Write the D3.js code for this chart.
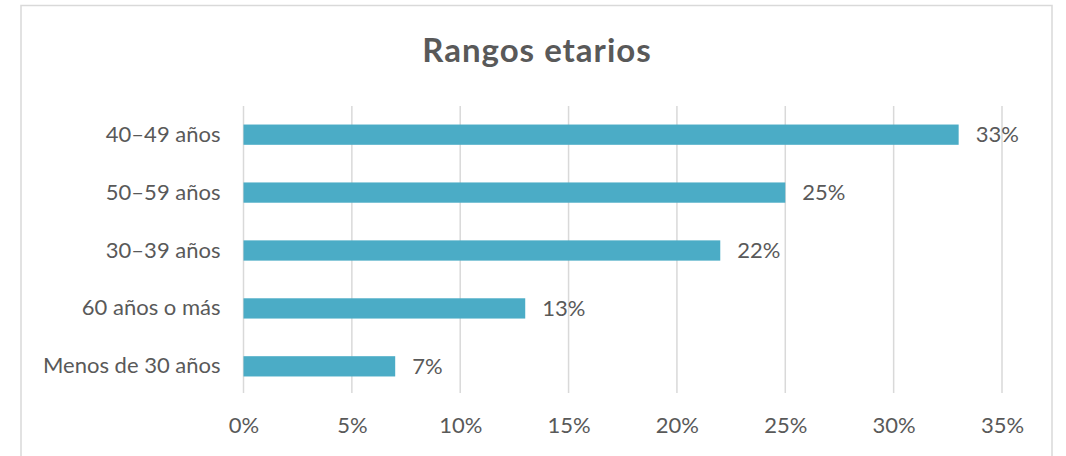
<!DOCTYPE html>
<html>
<head>
<meta charset="utf-8">
<script src="https://cdn.jsdelivr.net/npm/d3@7"></script>
<style>
	body { margin: 0; background: #fff; }
	svg text { font-family: Lato, "Open Sans", sans-serif; fill: #595959; }
</style>
</head>
<body>
<div id="chart"></div>
<script>
// data
// ----------------------------------------
var categories = ["40\u201349 años", "50\u201359 años", "30\u201339 años", "60 años o más", "Menos de 30 años"];
var values = [33, 25, 22, 13, 7];
var ticks = [0, 5, 10, 15, 20, 25, 30, 35];
var title = "Rangos etarios";

var width = 1066, height = 456;
var margin = {top: 106, right: 64, bottom: 63, left: 243.5};

var svg = d3.select("#chart")
	.append("svg")
	.attr("width", width)
	.attr("height", height);

// chart frame
svg.append("path")
	.attr("d", "M21,470 L21,5.5 L1052,5.5 L1052,470")
	.attr("fill", "none")
	.attr("stroke", "#d9d9d9")
	.attr("stroke-width", 1.5);

svg.append("text")
	.attr("x", 537)
	.attr("y", 62)
	.attr("text-anchor", "middle")
	.attr("font-size", 33)
	.attr("font-weight", "bold")
	.attr("letter-spacing", 1)
	.text(title);

var x = d3.scaleLinear()
	.domain([0, 35])
	.range([margin.left, width - margin.right]);

var y = d3.scaleBand()
	.domain(categories)
	.range([margin.top, height - margin.bottom + 2])
	.paddingInner(0.65)
	.paddingOuter(0.32);

// gridlines
svg.append("g")
	.selectAll("line")
	.data(ticks)
	.join("line")
	.attr("x1", function(d){ return x(d); })
	.attr("x2", function(d){ return x(d); })
	.attr("y1", margin.top)
	.attr("y2", height - margin.bottom)
	.attr("stroke", "#d9d9d9")
	.attr("stroke-width", 1.5);

// bars
svg.append("g")
	.selectAll("rect")
	.data(values)
	.join("rect")
	.attr("x", x(0))
	.attr("y", function(d, i){ return y(categories[i]); })
	.attr("width", function(d){ return x(d) - x(0); })
	.attr("height", y.bandwidth())
	.attr("fill", "#4bacc6");

// value labels
svg.append("g")
	.selectAll("text")
	.data(values)
	.join("text")
	.attr("x", function(d){ return x(d) + 17; })
	.attr("y", function(d, i){ return y(categories[i]) + y.bandwidth() / 2; })
	.attr("dy", "0.35em")
	.attr("font-size", 22)
	.text(function(d){ return d + "%"; });

// category axis
var yAxis = svg.append("g")
	.attr("transform", "translate(" + (margin.left - 23) + ",0)")
	.call(d3.axisLeft(y).tickSize(0).tickPadding(0));
yAxis.select(".domain").remove();
yAxis.selectAll("text").attr("font-size", 22);
yAxis.attr("font-family", null);

// value axis
var xAxis = svg.append("g")
	.attr("transform", "translate(0,433)")
	.call(d3.axisBottom(x).tickValues(ticks).tickSize(0).tickPadding(0)
		.tickFormat(function(d){ return d + "%"; }));
xAxis.select(".domain").remove();
xAxis.selectAll("text").attr("font-size", 22).attr("dy", 0).attr("y", 0);
xAxis.attr("font-family", null);
</script>
</body>
</html>
